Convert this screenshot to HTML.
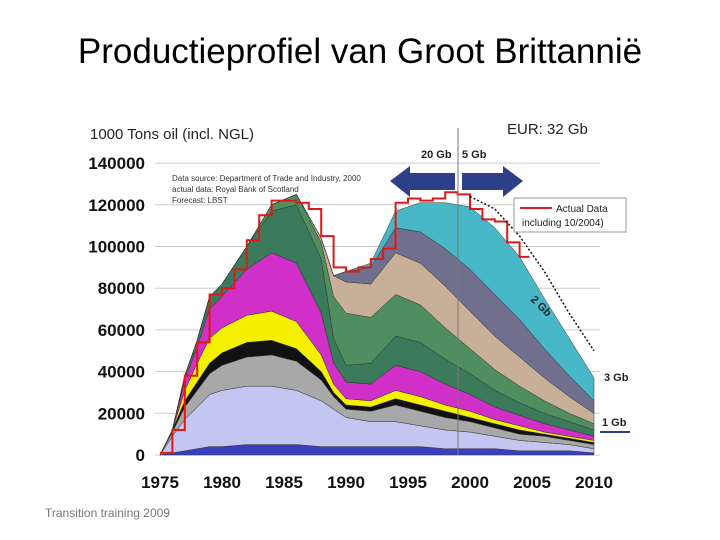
<!DOCTYPE html>
<html><head><meta charset="utf-8"><style>
body{margin:0;background:#fff;font-family:"Liberation Sans",sans-serif}
#wrap{position:relative;width:720px;height:540px;overflow:hidden}
</style></head><body>
<div id="wrap">
<svg id="chart" width="720" height="540">
<text x="360" y="63" font-size="35" text-anchor="middle" fill="#000">Productieprofiel van Groot Brittannië</text>
<text x="90" y="139" font-size="15" fill="#222">1000 Tons oil (incl. NGL)</text>
<text x="507" y="134" font-size="15" fill="#222">EUR: 32 Gb</text>
<text x="172" y="181" font-size="8" fill="#333">Data source: Department of Trade and Industry, 2000</text>
<text x="172" y="192" font-size="8" fill="#333">actual data: Royal Bank of Scotland</text>
<text x="172" y="203" font-size="8" fill="#333">Forecast: LBST</text>
<g id="grid"></g><g id="areas"></g><g id="lines"></g><g id="axes"></g>
<line x1="458" y1="128" x2="458" y2="455" stroke="#777" stroke-width="1"/>
<text x="421" y="158" font-size="11" font-weight="bold" fill="#222">20 Gb</text>
<text x="462" y="158" font-size="11" font-weight="bold" fill="#222">5 Gb</text>
<polygon points="390,181 410,166 410,173 455,173 455,190 410,190 410,197" fill="#2e3f8a"/>
<polygon points="523,181 503,166 503,173 462,173 462,190 503,190 503,197" fill="#2e3f8a"/>
<g>
<rect x="514" y="198" width="112" height="34" fill="#fff" stroke="#999"/>
<line x1="520" y1="208" x2="552" y2="208" stroke="#d22" stroke-width="2"/>
<text x="556" y="212" font-size="10" fill="#222">Actual Data</text>
<text x="522" y="226" font-size="10" fill="#222">including 10/2004)</text>
</g>
<text x="530" y="300" font-size="11" font-weight="bold" fill="#222" transform="rotate(45 530 300)">2 Gb</text>
<text x="604" y="381" font-size="11" font-weight="bold" fill="#222">3 Gb</text>
<text x="602" y="426" font-size="11" font-weight="bold" fill="#222">1 Gb</text>
<line x1="600" y1="432" x2="630" y2="432" stroke="#2e3f8a" stroke-width="2"/>
<text x="45" y="517" font-size="12" fill="#777">Transition training 2009</text>
</svg>
</div>
<script>
const years=[1975,1976,1977,1978,1979,1980,1982,1984,1986,1988,1989,1990,1992,1994,1996,1998,2000,2002,2004,2006,2008,2010];
const layerBlue=[0,1,2,3,4,4,5,5,5,4,4,4,4,4,4,3,3,3,2,2,2,1];
const layerLavender=[0,8,15,20,25,27,28,28,26,22,18,14,12,12,10,9,8,6,5,4,3,2];
const layerGray=[0,2,6,8,10,12,14,15,14,10,6,4,5,8,7,6,5,4,3,3,2,2];
const layerBlack=[0,1,3,4,5,6,7,7,6,4,2,2,2,3,3,3,2,2,2,1,1,1];
const layerYellow=[0,0,5,9,12,12,13,14,13,8,4,3,3,4,4,3,3,2,2,1,1,1];
const layerMulti=[0,0,5,8,14,15,22,28,28,20,10,8,8,12,12,10,8,6,5,4,3,2];
const layerGreen=[0,0,2,3,6,6,11,20,28,26,12,8,10,14,14,12,10,8,6,5,4,3];
const layerNew1=[0,0,0,0,0,0,0,3,5,8,20,25,22,20,18,15,12,10,8,6,4,3];
const layerNew2=[0,0,0,0,0,0,0,0,0,2,10,15,16,20,20,20,18,16,14,11,8,5];
const layerNew3=[0,0,0,0,0,0,0,0,0,0,0,5,8,12,15,18,20,20,18,14,10,6];
const layerNew4=[0,0,0,0,0,0,0,0,0,0,0,0,2,8,14,22,30,32,30,24,18,11];
const actualYears=[1975,1976,1977,1978,1979,1980,1981,1982,1983,1984,1985,1986,1987,1988,1989,1990,1991,1992,1993,1994,1995,1996,1997,1998,1999,2000,2001,2002,2003,2004];
const actualValues=[1,12,38,54,77,80,89,103,115,122,122,121,118,105,90,88,90,94,99,121,123,122,123,126,125,118,113,112,102,95];
const forecastYears=[2000,2002,2004,2006,2008,2010];
const forecastValues=[124,118,105,88,68,50];
const yTicks=[0,20000,40000,60000,80000,100000,120000,140000];
const xTicks=[1975,1980,1985,1990,1995,2000,2005,2010];
const NS='http://www.w3.org/2000/svg';
const X=y=>160+(y-1975)*12.4;
const Y=v=>455-v*1000/20000*41.7;
function mk(tag,attrs,parent){const e=document.createElementNS(NS,tag);for(const k in attrs)e.setAttribute(k,attrs[k]);parent.appendChild(e);return e;}
const grid=document.getElementById('grid'),areas=document.getElementById('areas'),lines=document.getElementById('lines'),axes=document.getElementById('axes');
yTicks.forEach(t=>{
 const l=mk('line',{x1:155,x2:600,y1:Y(t/1000),y2:Y(t/1000),stroke:'#ccc','stroke-width':1},grid);
 
 
 const tx=mk('text',{x:145,y:Y(t/1000)+6,'font-size':17,'font-weight':'bold','text-anchor':'end',fill:'#111'},axes);
 tx.textContent=t;
 
 
});
xTicks.forEach(t=>{
 const tx=mk('text',{x:X(t),y:488,'font-size':17,'font-weight':'bold','text-anchor':'middle',fill:'#111'},axes);
 tx.textContent=t;
 
 
});
const layers=[[layerBlue,'#3a3fc0','layer-blue'],[layerLavender,'#c4c6f2','layer-lavender'],[layerGray,'#a8a8a8','layer-gray'],[layerBlack,'#111','layer-black'],[layerYellow,'#f4f000','layer-yellow'],[layerMulti,'#d030c8','layer-multi'],[layerGreen,'#3b7a5a','layer-green'],[layerNew1,'#4f8f5f','layer-new-fields-1'],[layerNew2,'#c8b098','layer-new-fields-2'],[layerNew3,'#70708e','layer-new-fields-3'],[layerNew4,'#48b8c8','layer-new-fields-4']];
let base=years.map(()=>0);
layers.forEach(([vals,col,name])=>{
 const top=base.map((b,i)=>b+vals[i]);
 let d='M'+years.map((y,i)=>X(y)+','+Y(top[i])).join(' L');
 for(let i=years.length-1;i>=0;i--)d+=' L'+X(years[i])+','+Y(base[i]);
 const p=mk('path',{d:d+'Z',fill:col,stroke:'#333','stroke-width':0.5},areas);
 
 
 base=top;
});
let d='';
actualYears.forEach((y,i)=>{const x=X(y),v=Y(actualValues[i]);d+=(i?' L'+x+','+Y(actualValues[i-1])+' L':'M')+x+','+v;});
d+=' L'+X(2004.8)+','+Y(actualValues[actualValues.length-1]);
const al=mk('path',{d:d,fill:'none',stroke:'#e01818','stroke-width':2},lines);


const fl=mk('polyline',{points:forecastYears.map((y,i)=>X(y)+','+Y(forecastValues[i])).join(' '),fill:'none',stroke:'#111','stroke-width':1.5,'stroke-dasharray':'2,2'},lines);


</script>
</body></html>
